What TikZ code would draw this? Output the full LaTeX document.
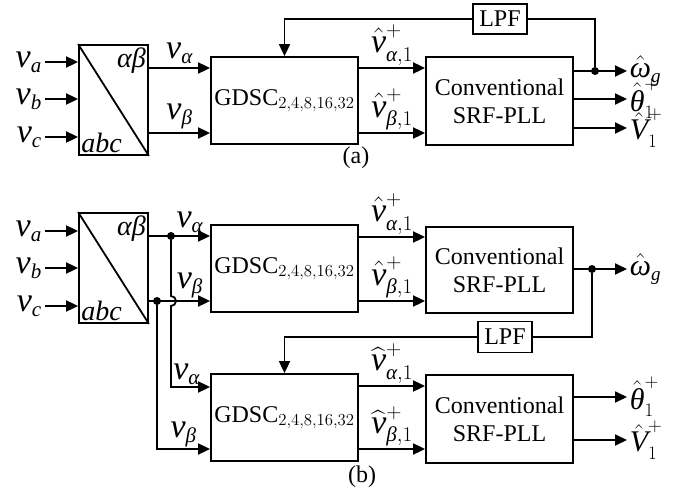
\RequirePackage{fix-cm}
\documentclass[tikz,border=0pt]{standalone}
\usepackage{amsmath}
\usepackage{fontspec}
\setmainfont{Liberation Serif}
\usetikzlibrary{arrows.meta,calc}

\DeclareMathSizes{34}{34}{21}{16}
\DeclareMathSizes{30}{30}{19}{14}

\newcommand{\iv}{\textit{v}}
\newcommand{\ig}[1]{\textit{#1}}

\tikzset{
  blk/.style={draw, line width=1.8pt, inner sep=0pt, align=center},
  sig/.style={->, line width=1.8pt},
  wire/.style={line width=1.8pt},
  lbl/.style={font=\fontsize{34}{36}\selectfont, inner sep=0pt},
  outlbl/.style={font=\fontsize{30}{32}\selectfont, inner sep=0pt},
  inlbl/.style={font=\fontsize{28}{30}\selectfont, inner sep=3pt},
  dot/.style={circle, fill, inner sep=0pt, minimum size=8pt}
}

\begin{document}
\begin{tikzpicture}[x=1pt,y=-1pt,font=\fontsize{24}{28}\selectfont,
    >={Triangle[length=12pt,width=11pt]}]
\useasboundingbox (0,0) rectangle (682,495);

        %%% FIGURE (a)

        % Blocks
        \node[blk, minimum width=69pt, minimum height=110pt] (traA) at (113.5,100) {};
        \draw[wire] (traA.north west) -- (traA.south east);
        \node[inlbl, anchor=north east] at (traA.north east) {\ig{αβ}};
        \node[inlbl, anchor=south west] at (traA.south west) {\ig{abc}};
        \node[blk, minimum width=147pt, minimum height=87pt] (gdscA) at (284.5,100.5) {GDSC$_{2,4,8,16,32}$};
        \node[blk, minimum width=147pt, minimum height=88pt] (pllA) at (499.5,101) {Conventional\\SRF-PLL};
        \node[blk, minimum width=54pt, minimum height=30pt] (lpfA) at (500,19) {LPF};

        % Inputs
        \coordinate (iaA) at (45,62);
        \coordinate (ibA) at (45,99);
        \coordinate (icA) at (45,137);
        \draw[sig] (iaA) -- (iaA -| traA.west);
        \draw[sig] (ibA) -- (ibA -| traA.west);
        \draw[sig] (icA) -- (icA -| traA.west);
        \node[lbl, anchor=east] at ($(iaA)+(-3,0)$) {$\iv_{\ig{a}}$};
        \node[lbl, anchor=east] at ($(ibA)+(-3,0)$) {$\iv_{\ig{b}}$};
        \node[lbl, anchor=east] at ($(icA)+(-3,0)$) {$\iv_{\ig{c}}$};

        % alpha-beta to GDSC
        \draw[sig] (traA.east |- 0,68) -- (gdscA.west |- 0,68) node[lbl, midway, above=3pt] {$\iv_{\ig{α}}$};
        \draw[sig] (traA.east |- 0,133) -- (gdscA.west |- 0,133) node[lbl, midway, above=3pt] {$\iv_{\ig{β}}$};

        % GDSC to PLL
        \draw[sig] (gdscA.east |- 0,68) -- (pllA.west |- 0,68) node[lbl, midway, above=2pt] {$\hat{\iv}^{+}_{\ig{α},1}$};
        \draw[sig] (gdscA.east |- 0,133) -- (pllA.west |- 0,133) node[lbl, midway, above=2pt] {$\hat{\iv}^{+}_{\ig{β},1}$};

        % Outputs
        \coordinate (wA) at (627,71);
        \draw[sig] (pllA.east |- wA) -- (wA) node[outlbl, right=2pt] {$\hat{\ig{ω}}_{\ig{g}}$};
        \draw[sig] (pllA.east |- 0,99) -- (627,99) node[outlbl, right=2pt] {$\hat{\ig{θ}}^{+}_{1}$};
        \draw[sig] (pllA.east |- 0,128) -- (627,128) node[outlbl, right=2pt] {$\hat{\ig{V}}^{+}_{1}$};

        % Feedback through LPF
        \node[dot] (dA) at (595,71) {};
        \draw[wire] (dA) -- (dA |- lpfA) -- (lpfA.east);
        \draw[sig] (lpfA.west) -- (gdscA.north |- lpfA) -- (gdscA.north);

        \node at (356,158) {(a)};

        %%% FIGURE (b)

        % Blocks
        \node[blk, minimum width=69pt, minimum height=110pt] (traB) at (113.5,268) {};
        \draw[wire] (traB.north west) -- (traB.south east);
        \node[inlbl, anchor=north east] at (traB.north east) {\ig{αβ}};
        \node[inlbl, anchor=south west] at (traB.south west) {\ig{abc}};
        \node[blk, minimum width=147pt, minimum height=87pt] (gdscB) at (284.5,268.5) {GDSC$_{2,4,8,16,32}$};
        \node[blk, minimum width=147pt, minimum height=86pt] (pllB) at (499.5,270) {Conventional\\SRF-PLL};
        \node[blk, minimum width=147pt, minimum height=87pt] (gdscC) at (284.5,417.5) {GDSC$_{2,4,8,16,32}$};
        \node[blk, minimum width=147pt, minimum height=88pt] (pllC) at (499.5,419) {Conventional\\SRF-PLL};
        \node[blk, minimum width=54pt, minimum height=31pt] (lpfB) at (505,337) {LPF};

        % Inputs
        \coordinate (iaB) at (45,231);
        \coordinate (ibB) at (45,268);
        \coordinate (icB) at (45,306);
        \draw[sig] (iaB) -- (iaB -| traB.west);
        \draw[sig] (ibB) -- (ibB -| traB.west);
        \draw[sig] (icB) -- (icB -| traB.west);
        \node[lbl, anchor=east] at ($(iaB)+(-3,0)$) {$\iv_{\ig{a}}$};
        \node[lbl, anchor=east] at ($(ibB)+(-3,0)$) {$\iv_{\ig{b}}$};
        \node[lbl, anchor=east] at ($(icB)+(-3,0)$) {$\iv_{\ig{c}}$};

        % alpha-beta to upper GDSC
        \node[dot] (dal) at (171,236) {};
        \node[dot] (dbe) at (157,301) {};
        \draw[sig] (traB.east |- dal) -- (gdscB.west |- dal) node[lbl, pos=0.67, above=2pt] {$\iv_{\ig{α}}$};
        \draw[sig] (traB.east |- dbe) -- (gdscB.west |- dbe) node[lbl, pos=0.67, above=2pt] {$\iv_{\ig{β}}$};

        % branches to lower GDSC (alpha hops over beta)
        \draw[sig] (dal) -- (171,296) arc[start angle=-90, end angle=90, radius=5] -- (171,387) -- (gdscC.west |- 0,387)
            node[lbl, pos=0.4, above=1pt] {$\iv_{\ig{α}}$};
        \draw[sig] (dbe) -- (157,449) -- (gdscC.west |- 0,449)
            node[lbl, pos=0.5, above=1pt] {$\iv_{\ig{β}}$};

        % GDSC to PLL
        \draw[sig] (gdscB.east |- 0,237) -- (pllB.west |- 0,237) node[lbl, midway, above=2pt] {$\hat{\iv}^{+}_{\ig{α},1}$};
        \draw[sig] (gdscB.east |- 0,301) -- (pllB.west |- 0,301) node[lbl, midway, above=2pt] {$\hat{\iv}^{+}_{\ig{β},1}$};
        \draw[sig] (gdscC.east |- 0,386) -- (pllC.west |- 0,386) node[lbl, midway, above=2pt] {$\widehat{\iv}^{+}_{\ig{α},1}$};
        \draw[sig] (gdscC.east |- 0,449) -- (pllC.west |- 0,449) node[lbl, midway, above=2pt] {$\widehat{\iv}^{+}_{\ig{β},1}$};

        % Outputs
        \coordinate (wB) at (627,269);
        \draw[sig] (pllB.east |- wB) -- (wB) node[outlbl, right=2pt] {$\hat{\ig{ω}}_{\ig{g}}$};
        \draw[sig] (pllC.east |- 0,397) -- (627,397) node[outlbl, right=2pt] {$\hat{\ig{θ}}^{+}_{1}$};
        \draw[sig] (pllC.east |- 0,440) -- (627,440) node[outlbl, right=2pt] {$\hat{\ig{V}}^{+}_{1}$};

        % Feedback through LPF
        \node[dot] (dB) at (592,269) {};
        \draw[wire] (dB) -- (dB |- lpfB) -- (lpfB.east);
        \draw[sig] (lpfB.west) -- (gdscC.north |- lpfB) -- (gdscC.north);

        \node at (362,477) {(b)};

\end{tikzpicture}
\end{document}
